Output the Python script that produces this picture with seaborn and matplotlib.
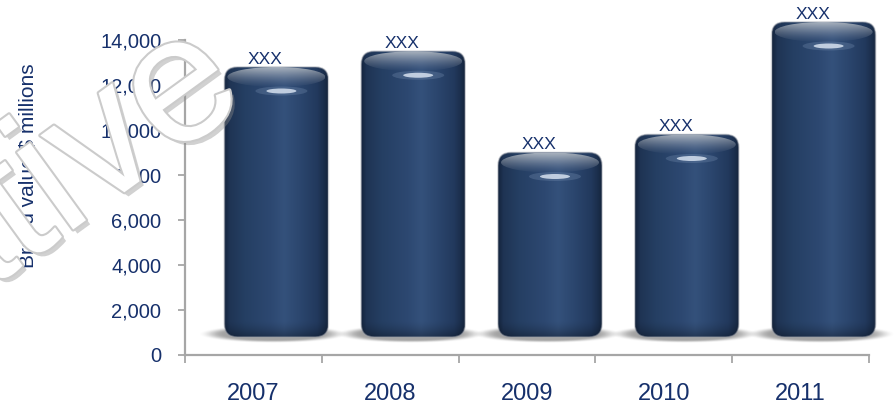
import numpy as np
import pandas as pd
import matplotlib
matplotlib.use("Agg")
import matplotlib.pyplot as plt
import matplotlib.patheffects as pe
import seaborn as sns
from matplotlib.patches import FancyBboxPatch, Ellipse
from matplotlib.transforms import IdentityTransform
from matplotlib.colors import to_rgb

# ---- data -------------------------------------------------------------
years = ["2007", "2008", "2009", "2010", "2011"]
brand_value = [12000, 12700, 8200, 9000, 14000]
value_labels = ["XXX", "XXX", "XXX", "XXX", "XXX"]
y_ticks = [0, 2000, 4000, 6000, 8000, 10000, 12000, 14000]
y_label = "Brand value $ millions"
watermark = "Indicative"

# ---- style ------------------------------------------------------------
NAVY = "#16306b"
AXIS_GREY = "#a6a6a6"
W, H, DPI = 895, 407, 100

sns.set_theme(style="white")
plt.rcParams["font.family"] = ["Liberation Sans", "DejaVu Sans"]

fig = plt.figure(figsize=(W / DPI, H / DPI), dpi=DPI)
# plot area: x from 185 px to the right edge, y from the top down to the zero line
ax = fig.add_axes([185 / W, 52 / H, 710 / W, 355 / H])

df = pd.DataFrame({"year": years, "value": brand_value})
sns.barplot(data=df, x="year", y="value", width=0.76, color="#27416a", ax=ax)

XLIM = (-0.5, -0.5 + 710 / 136.8)
YLIM = (0, 355 / 22.5 * 1000)
ax.set_xlim(*XLIM)
ax.set_ylim(*YLIM)

# depth offset of the 3-D columns (pixels right / up)
DX, DY = 23, 18
ident = IdentityTransform()


def lerp_stops(t, stops):
    pos = np.array([s[0] for s in stops])
    cols = np.array([to_rgb(s[1]) for s in stops])
    return np.stack([np.interp(t, pos, cols[:, k]) for k in range(3)], axis=-1)


body_stops = [(0.0, "#15253e"), (0.05, "#1f3454"), (0.2, "#253f63"),
              (0.45, "#2d4871"), (0.58, "#34517b"), (0.72, "#2c476f"),
              (0.9, "#22395d"), (0.97, "#1a2d4a"), (1.0, "#15253e")]

for i, p in enumerate(ax.patches):
    p.set_facecolor("none")
    p.set_edgecolor("none")
    x0, w_d, h_d = p.get_x(), p.get_width(), p.get_height()
    (X0, Y0) = ax.transData.transform((x0, 0)) + np.array([DX, DY])
    (X1, Y1) = ax.transData.transform((x0 + w_d, h_d)) + np.array([DX, DY])
    bw, bh = X1 - X0, Y1 - Y0
    cx = (X0 + X1) / 2

    # soft floor shadow
    sw, sh = 1.6 * bw, 34
    gx = np.linspace(-1, 1, 200)
    gy = np.linspace(-1, 1, 48)
    GX, GY = np.meshgrid(gx, gy)
    r = np.sqrt((GX * sw / 2 / (0.67 * bw)) ** 2 + (GY * sh / 2 / 8.5) ** 2)
    a = np.clip((1.08 - r) / 0.38, 0, 1)
    shadow = np.zeros((48, 200, 4))
    shadow[..., :3] = 0.55
    shadow[..., 3] = 0.8 * a * a * (3 - 2 * a)
    scx, scy = cx - 3, Y0 + 3
    ax.imshow(shadow, extent=[scx - sw / 2, scx + sw / 2, scy - sh / 2, scy + sh / 2],
              transform=ident, aspect="auto", interpolation="bilinear", zorder=2)

    # cylinder body with horizontal shading
    body = FancyBboxPatch((X0, Y0), bw, bh, boxstyle="round,pad=0,rounding_size=13",
                          transform=ident, facecolor="none",
                          edgecolor=(0.6, 0.62, 0.66, 0.5), linewidth=1.1,
                          zorder=3.5, clip_on=False)
    nw, nh = max(int(bw), 2), max(int(bh), 2)
    rgb = lerp_stops(np.linspace(0, 1, nw), body_stops)
    img = np.repeat(rgb[None, :, :], nh, axis=0)
    d_bot = np.arange(nh)[::-1][:, None]
    dark = 1 - 0.3 * np.clip(1 - d_bot / 16, 0, 1) ** 1.5
    img = img * dark[..., None]
    im = ax.imshow(img, extent=[X0, X1, Y0, Y1], transform=ident, aspect="auto",
                   interpolation="bilinear", zorder=3)
    holder = FancyBboxPatch((X0, Y0), bw, bh, boxstyle="round,pad=0,rounding_size=13",
                            transform=ident, facecolor="none", edgecolor="none")
    ax.add_patch(holder)
    im.set_clip_path(holder)
    ax.add_patch(body)

    # top face of the cylinder
    fw, fh = bw - 6, 20
    face = np.zeros((fh * 2, 60, 4))
    ty = np.linspace(0, 1, fh * 2)[:, None]
    tx = np.linspace(-1, 1, 60)[None, :]
    top_c = np.array(to_rgb("#a7b1bd"))
    bot_c = np.array(to_rgb("#5d7090"))
    col = top_c * (1 - ty[..., None]) + bot_c * ty[..., None]
    col = col * (1 - 0.14 * tx[..., None] ** 2)
    face[..., :3] = col
    face[..., 3] = np.clip(1.0 - 0.95 * ty ** 1.3, 0, 1) * np.ones_like(tx)
    fim = ax.imshow(face, extent=[cx - fw / 2, cx + fw / 2, Y1 - fh, Y1], transform=ident,
                    aspect="auto", interpolation="bilinear", zorder=4)
    fell = Ellipse((cx, Y1 - fh / 2), fw, fh, transform=ident, facecolor="none",
                   edgecolor="none")
    ax.add_patch(fell)
    fim.set_clip_path(fell)

    # specular highlight on the front lip
    ax.add_patch(Ellipse((cx + 5, Y1 - 24), 52, 9, transform=ident,
                         facecolor="#8aa2c2", alpha=0.25, edgecolor="none",
                         zorder=5, clip_on=False))
    ax.add_patch(Ellipse((cx + 5, Y1 - 24), 30, 5, transform=ident,
                         facecolor="#dfe9f6", alpha=0.8, edgecolor="none",
                         zorder=5.5, clip_on=False))

    # value label above the column
    ax.annotate(value_labels[i], xy=(x0 + w_d / 2, h_d), xytext=(12, 26),
                textcoords="offset pixels", ha="center", va="center",
                fontsize=12.5, color=NAVY, zorder=6, annotation_clip=False)

ax.set_xlim(*XLIM)
ax.set_ylim(*YLIM)

# ---- axes ---------------------------------------------------------------
sns.despine(ax=ax)
for side in ("left", "bottom"):
    ax.spines[side].set_color(AXIS_GREY)
    ax.spines[side].set_linewidth(1.6)
ax.spines["left"].set_bounds(0, 14000)
ax.spines["bottom"].set_bounds(-0.5, 4.5)

ax.set_yticks(y_ticks, labels=[f"{v:,}" for v in y_ticks])
ax.set_xticks(range(len(years)), labels=years)
ax.set_xticks(np.arange(-0.5, len(years), 1.0), minor=True)
ax.tick_params(axis="y", left=True, direction="out", length=5, width=1.3,
               color=AXIS_GREY, labelcolor=NAVY, labelsize=14.5, pad=12)
ax.tick_params(axis="x", which="major", bottom=True, length=0,
               labelcolor=NAVY, labelsize=17, pad=20)
ax.tick_params(axis="x", which="minor", bottom=True, direction="out", length=6,
               width=1.3, color=AXIS_GREY)
ax.set_xlabel("")
ax.set_ylabel("")
ax.grid(False)

fig.text(28 / W, 1 - 166 / H, y_label, rotation=90, ha="center", va="center",
         fontsize=15, color=NAVY)

# diagonal watermark
fig.text(250 / W, 1 - 101 / H, watermark, rotation=36, rotation_mode="anchor",
         ha="right", va="baseline", fontsize=130, color="white", zorder=20,
         path_effects=[pe.withSimplePatchShadow(offset=(3, -3), shadow_rgbFace="#8c8c8c",
                                                alpha=0.4),
                       pe.Stroke(linewidth=3, foreground="#cbcbcb"),
                       pe.Normal()])

fig.savefig("out.png", dpi=DPI)
